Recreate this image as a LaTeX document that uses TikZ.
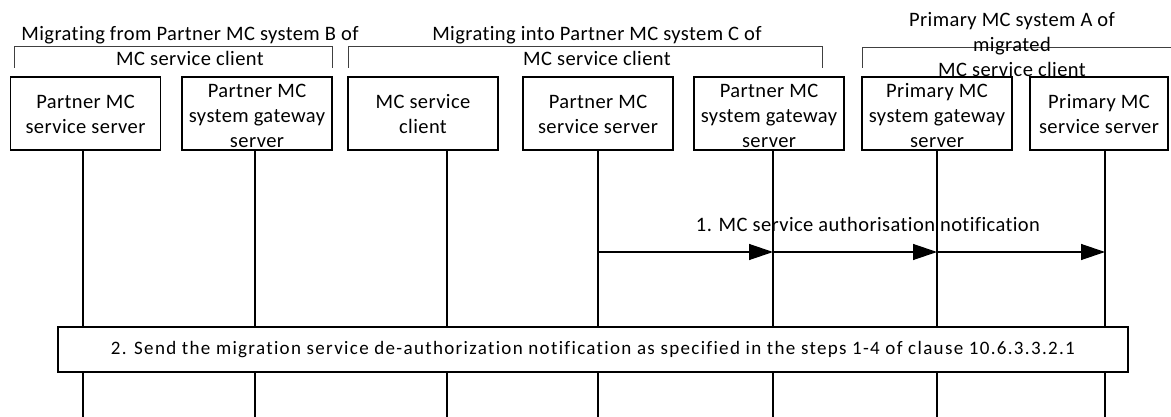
\documentclass[tikz,border=0pt]{standalone}
\usepackage{fontspec}
\setmainfont{Carlito}[LetterSpace=2,Ligatures=NoCommon]
\newfontfamily\widefont{Carlito}[LetterSpace=7,Ligatures=NoCommon]
\usetikzlibrary{arrows.meta}
\begin{document}
\begin{tikzpicture}[x=1pt,y=-1pt,
  entity/.style={draw,line width=1.3pt,minimum width=150pt,minimum height=73pt,inner sep=0pt},
  etext/.style={align=center,font=\fontsize{20.5}{25}\selectfont,inner sep=0pt},
  gtext/.style={align=center,font=\fontsize{20.5}{25}\selectfont,inner sep=0pt},
  bracket/.style={draw=black!75,line width=0.9pt},
  life/.style={line width=1.3pt},
  msg/.style={line width=1.3pt,-{Triangle[length=24pt,width=16pt]}},
  stepbox/.style={draw,fill=white,line width=1.3pt,minimum width=1070pt,minimum height=45pt,inner sep=0pt,font=\widefont\fontsize{19}{22}\selectfont}
]
\useasboundingbox (0,0) rectangle (1171,417);
% group brackets
\draw[bracket] (14,68) -- (14,46) -- (332,46) -- (332,68);
\draw[bracket] (348,68) -- (348,46) -- (822,46) -- (822,68);
\draw[bracket] (862,68) -- (862,47) -- (1171,47);
\node[gtext] (g1) at (190,46) {Migrating from Partner MC system B of\\MC service client};
\node[gtext] (g2) at (597,46) {Migrating into Partner MC system C of\\MC service client};
\node[gtext] (g3) at (1012,45) {Primary MC system A of\\migrated\\MC service client};
% entities
\node[entity] (b1) at (85.5,113.5) {};
\node[entity] (b2) at (257,113.5) {};
\node[entity] (b3) at (423,113.5) {};
\node[entity] (b4) at (598,113.5) {};
\node[entity] (b5) at (769,113.5) {};
\node[entity] (b6) at (937,113.5) {};
\node[entity,minimum width=138pt] (b7) at (1099,113.5) {};
\node[etext] at ([yshift=-1pt]b1) {Partner MC\\service server};
\node[etext] at ([yshift=-2pt]b2) {Partner MC\\system gateway\\server};
\node[etext] at ([yshift=-1pt]b3) {MC service\\client};
\node[etext] at ([yshift=-1pt]b4) {Partner MC\\service server};
\node[etext] at ([yshift=-2pt]b5) {Partner MC\\system gateway\\server};
\node[etext] at ([yshift=-2pt]b6) {Primary MC\\system gateway\\server};
\node[etext] at ([yshift=-1pt]b7) {Primary MC\\service server};
% lifelines
\coordinate (e1) at (83,417);
\coordinate (e2) at (255,417);
\coordinate (e3) at (447,417);
\coordinate (e4) at (598,417);
\coordinate (e5) at (773,417);
\coordinate (e6) at (937,417);
\coordinate (e7) at (1105,417);
\draw[life] (b1.south -| e1) -- (e1);
\draw[life] (b2.south -| e2) -- (e2);
\draw[life] (b3.south -| e3) -- (e3);
\draw[life] (b4.south -| e4) -- (e4);
\draw[life] (b5.south -| e5) -- (e5);
\draw[life] (b6.south -| e6) -- (e6);
\draw[life] (b7.south -| e7) -- (e7);
% step 1
\coordinate (m4) at (598,252);
\coordinate (m5) at (773,252);
\coordinate (m6) at (937,252);
\coordinate (m7) at (1105,252);
\draw[msg] (m4) -- (m5);
\draw[msg] (m5) -- (m6);
\draw[msg] (m6) -- (m7);
\node[etext] (l1) at (868,224) {1. MC service authorisation notification};
% step 2
\node[stepbox] (s2) at (593,349.5) {2. Send the migration service de-authorization notification as specified in the steps 1-4 of clause 10.6.3.3.2.1};
\end{tikzpicture}
\end{document}
